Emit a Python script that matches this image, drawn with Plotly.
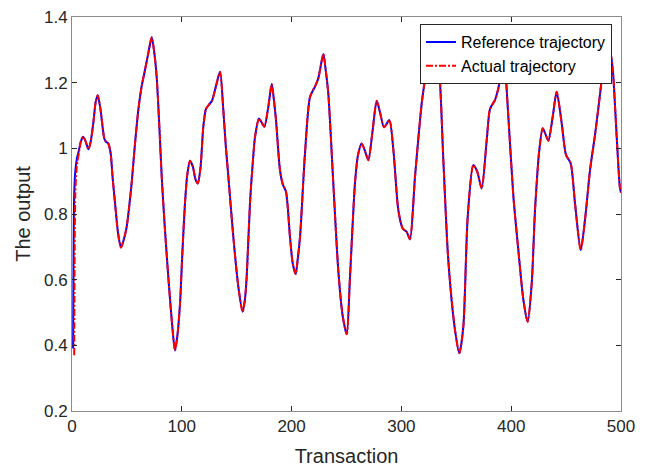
import plotly.graph_objects as go

# Reference trajectory
ref_x = [1, 2, 3, 4.5, 6, 8, 10, 12, 15, 17, 19.5, 21.5, 23.4, 26, 29.4, 31, 33, 35.2, 37, 39.2,
         42, 44.6, 47, 49.8, 52, 54.3, 57, 60.4, 63.5, 66.5, 69.5, 72.6, 75, 77.1, 79.5, 81.7,
         84.5, 87.7, 91, 93.8, 96, 98.4, 100.5, 102.9, 105, 107.5, 110, 112.5, 114.5, 117, 119.6,
         122, 124.5, 127.5, 131, 134.8, 137.8, 140, 142.4, 146.9, 151.5, 155.4, 157.5, 159.1,
         162.1, 164.5, 166.7, 170.3, 172.5, 175.2, 178.8, 181.9, 183.8, 185.8, 189.4, 192, 194.9,
         198.5, 201, 203.7, 205.5, 207.7, 212.2, 216.8, 221.3, 224.3, 228.9, 231, 233.4, 238,
         242.5, 246.5, 250.2, 253.2, 257.7, 260.5, 263.8, 267, 269.9, 273.5, 277.5, 280.5, 284.2,
         289, 292.7, 297.2, 301.2, 304.8, 307.8, 312.4, 318.5, 322.4, 325, 328, 331, 334.5, 338.2,
         342.7, 348.8, 352.8, 356.4, 360.4, 365.5, 369, 373.1, 377.7, 380.7, 385.2, 388.3, 392.7,
         394.6, 397.4, 402, 406.5, 411.1, 415, 418.7, 421.7, 425.6, 428.7, 431, 433.8, 437.8,
         441.4, 446, 449.9, 454.2, 458.1, 463.3, 467.2, 471.8, 476.3, 480, 483.3, 486, 488.5,
         490.5, 492.7, 496, 499, 500]
ref_y = [0.39, 0.86, 0.93, 0.97, 0.99, 1.02, 1.035, 1.025, 0.997, 1.02, 1.08, 1.14, 1.162, 1.117,
         1.03, 1.02, 1.015, 0.985, 0.91, 0.833, 0.74, 0.698, 0.72, 0.761, 0.82, 0.893, 1.0, 1.117,
         1.19, 1.239, 1.29, 1.338, 1.29, 1.218, 1.07, 0.914, 0.76, 0.609, 0.47, 0.384, 0.43, 0.528,
         0.68, 0.833, 0.92, 0.962, 0.945, 0.905, 0.893, 0.94, 1.066, 1.12, 1.132, 1.145, 1.188,
         1.233, 1.117, 1.01, 0.914, 0.731, 0.578, 0.502, 0.54, 0.609, 0.833, 0.95, 1.035, 1.091,
         1.08, 1.066, 1.127, 1.196, 1.15, 1.086, 0.934, 0.89, 0.868, 0.731, 0.65, 0.617, 0.66,
         0.731, 0.985, 1.157, 1.188, 1.213, 1.287, 1.24, 1.168, 0.893, 0.629, 0.49, 0.434, 0.609,
         0.893, 0.98, 1.015, 0.99, 0.964, 1.046, 1.145, 1.11, 1.064, 1.086, 0.995, 0.812, 0.756,
         0.746, 0.723, 0.914, 1.137, 1.232, 1.29, 1.33, 1.30, 1.232, 0.964, 0.660, 0.447, 0.376,
         0.457, 0.792, 0.949, 0.93, 0.878, 1.025, 1.12, 1.147, 1.183, 1.26, 1.232, 1.096, 0.853,
         0.690, 0.538, 0.472, 0.589, 0.812, 0.995, 1.061, 1.045, 1.023, 1.096, 1.172, 1.076, 0.980,
         0.954, 0.833, 0.690, 0.782, 0.934, 1.04, 1.14, 1.232, 1.29, 1.31, 1.29, 1.232, 1.04,
         0.88, 0.865]

# Actual trajectory: differs from the reference at the start, then follows it
act_start_x = [2, 3, 4, 5, 6.5, 8]
act_start_y = [0.37, 0.86, 0.93, 0.96, 0.99, 1.02]

start_n = ref_x.index(8)
act_x = act_start_x[:-1] + ref_x[start_n:]
act_y = act_start_y[:-1] + ref_y[start_n:]

x_ticks = [0, 100, 200, 300, 400, 500]
y_ticks = [0.2, 0.4, 0.6, 0.8, 1.0, 1.2, 1.4]
y_tick_labels = ["0.2", "0.4", "0.6", "0.8", "1", "1.2", "1.4"]

FONT = "Liberation Sans, Arial, sans-serif"
TXT = "#262626"

fig = go.Figure()
fig.add_trace(go.Scatter(
    x=ref_x, y=ref_y, mode="lines", name="Reference trajectory",
    line=dict(color="rgb(0,0,255)", width=2, shape="spline", smoothing=0.7)))
fig.add_trace(go.Scatter(
    x=act_x, y=act_y, mode="lines", name="Actual trajectory",
    line=dict(color="rgb(255,0,0)", width=2, dash="7px,2px,2px,2px",
              shape="spline", smoothing=0.7)))

axis_common = dict(
    automargin=False, ticklabeloverflow="allow",
    showgrid=False, zeroline=False, showline=True, linecolor="#8c8c8c", linewidth=1,
    mirror="ticks", ticks="inside", ticklen=5, tickcolor=TXT, tickwidth=1,
    tickfont=dict(family=FONT, size=17, color=TXT))

fig.update_xaxes(range=[0, 500], tickvals=x_ticks,
                 title=dict(text="Transaction", font=dict(family=FONT, size=20, color=TXT),
                            standoff=13),
                 **axis_common)
fig.update_yaxes(range=[0.2, 1.4], tickvals=y_ticks, ticktext=y_tick_labels,
                 title=dict(text="The output", font=dict(family=FONT, size=20, color=TXT),
                            standoff=7),
                 **axis_common)

# page body has an 8px margin: figure is 641x460 so the plot lands at x 72-621, y 17-411
fig.update_layout(
    template="none",
    width=641, height=460,
    margin=dict(l=64, r=28, t=9, b=57),
    paper_bgcolor="white", plot_bgcolor="white",
    showlegend=True,
    legend=dict(x=0.9836, xanchor="right", y=0.982, yanchor="top",
                bgcolor="white", bordercolor=TXT, borderwidth=1,
                font=dict(family=FONT, size=16, color="#000000"),
                tracegroupgap=0, itemwidth=30),
)

fig.write_html("out.html")
